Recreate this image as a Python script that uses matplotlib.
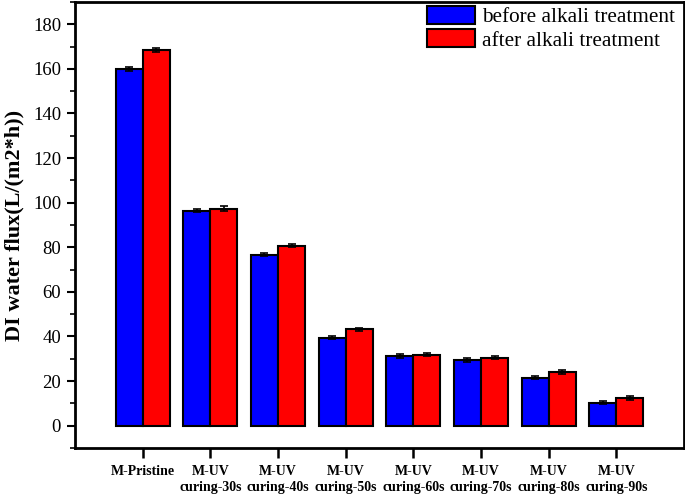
import numpy as np
import matplotlib.pyplot as plt

categories = ['M-Pristine', 'M-UV\ncuring-30s', 'M-UV\ncuring-40s', 'M-UV\ncuring-50s',
              'M-UV\ncuring-60s', 'M-UV\ncuring-70s', 'M-UV\ncuring-80s', 'M-UV\ncuring-90s']
before = [160.0, 96.3, 76.7, 39.5, 31.3, 29.5, 21.5, 10.4]
after = [168.5, 97.3, 80.7, 43.3, 31.9, 30.4, 23.9, 12.5]
before_err = [0.8, 0.7, 0.6, 0.8, 1.0, 0.8, 0.7, 0.8]
after_err = [0.9, 1.0, 0.8, 0.7, 0.7, 0.7, 0.9, 0.8]

plt.rcParams['font.family'] = ['Liberation Serif', 'DejaVu Serif']

fig = plt.figure(figsize=(6.85, 4.94), dpi=100)
ax = fig.add_axes([0.1095, 0.0931, 0.889, 0.903])

x = np.arange(1, len(categories) + 1)
w = 0.4
ax.bar(x - w/2, before, w, yerr=before_err, color='#0000ff', edgecolor='black', linewidth=1.5,
       capsize=3, error_kw=dict(elinewidth=1.2, capthick=1.2), label='before alkali treatment')
ax.bar(x + w/2, after, w, yerr=after_err, color='#ff0000', edgecolor='black', linewidth=1.5,
       capsize=3, error_kw=dict(elinewidth=1.2, capthick=1.2), label='after alkali treatment')

ax.set_xlim(0, 9)
ax.set_ylim(-10, 190)
ax.set_yticks(np.arange(0, 181, 20))
ax.set_yticks(np.arange(-10, 191, 10), minor=True)
ax.set_xticks(x)
ax.set_xticklabels(categories, fontsize=10, fontweight='bold', linespacing=1.35)
ax.tick_params(axis='y', labelsize=13.5, width=1.5, length=6, pad=4)
ax.tick_params(axis='y', which='minor', width=1.2, length=3.5)
ax.tick_params(axis='x', width=1.8, length=7, pad=5)
for s in ax.spines.values():
    s.set_linewidth(2)

ax.set_ylabel('DI water flux(L/(m2*h))', fontsize=16, fontweight='bold', labelpad=6)

ax.legend(loc='upper right', bbox_to_anchor=(0.992, 1.0), frameon=False, fontsize=15.3,
          handlelength=2.26, handleheight=0.9, borderaxespad=0.1, borderpad=0.1,
          handletextpad=0.33, labelspacing=0.1)

fig.savefig('out.png', dpi=100)
